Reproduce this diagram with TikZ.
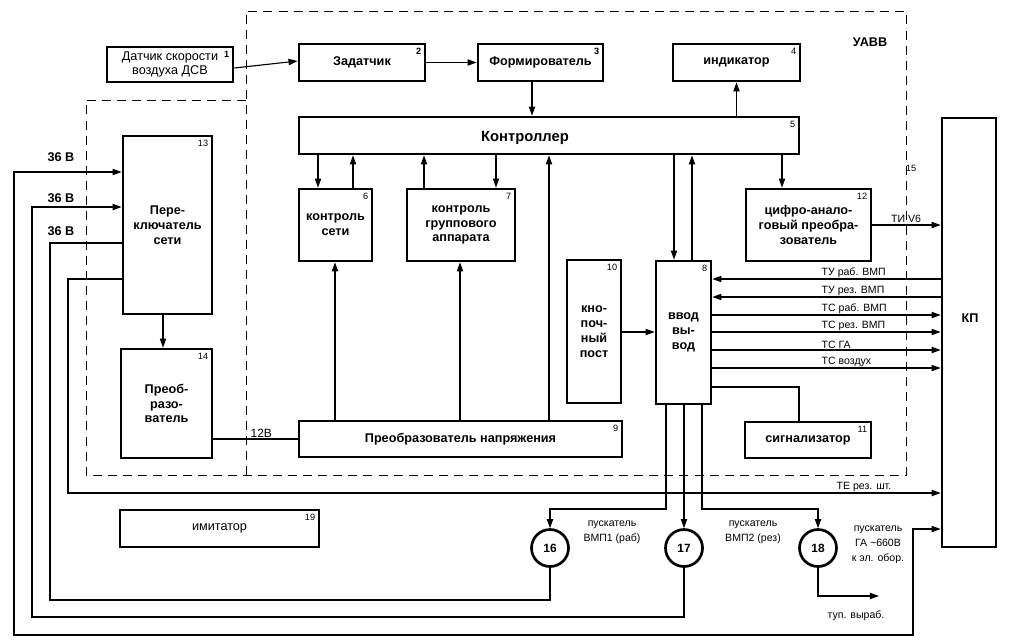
\documentclass[tikz,border=0pt]{standalone}
\usepackage{fontspec}
\setmainfont{Liberation Sans}
\usetikzlibrary{arrows.meta, positioning, calc}
\tikzset{
    % Block styles
    blockbox/.style={
        rectangle,
        draw,
        line width=1.9pt,
        align=center,
        inner sep=1pt,
        font=\bfseries\fontsize{9}{10.5}\selectfont
    },
    plainbox/.style={
        blockbox,
        font=\fontsize{9}{10.5}\selectfont
    },
    numlbl/.style={
        anchor=north east,
        inner sep=3.5pt,
        font=\fontsize{6.5}{7}\selectfont
    },
    circnode/.style={
        circle,
        draw,
        line width=1.9pt,
        minimum size=0.925cm,
        inner sep=0pt,
        font=\bfseries\fontsize{8.5}{10}\selectfont
    },
    % Text styles
    sigtxt/.style={
        inner sep=1pt,
        font=\fontsize{7.5}{9}\selectfont
    },
    smalltxt/.style={
        align=center,
        inner sep=1pt,
        font=\fontsize{7.5}{10.5}\selectfont
    },
    volttxt/.style={
        anchor=east,
        inner sep=1pt,
        font=\bfseries\fontsize{9}{10}\selectfont
    },
    % Line styles
    myarrow/.style={
        -{Triangle[length=6.5pt,width=4.5pt]},
        line width=0.8pt
    },
    plainline/.style={
        line width=0.8pt
    },
    boundary/.style={
        line width=0.6pt,
        dash pattern=on 6.4pt off 4.3pt
    }
}
\begin{document}
\begin{tikzpicture}[x=0.025cm, y=-0.025cm]
    \useasboundingbox (0,0) rectangle (1016,641);

    % UAVV boundary
    \draw[boundary] (246,475) -- (246,11) -- (906,11) -- (906,475) -- (86,475) -- (86,100) -- (246,100);
    \node[font=\bfseries\fontsize{9}{10}\selectfont] (uavv) at (870,42) {УАВВ};
    \node[font=\fontsize{6.5}{7}\selectfont] (n15) at (911,168) {15};

    % Upper row
    \node[plainbox, minimum width=3.15cm, minimum height=0.875cm] (dsv) at (170,64.5) {Датчик скорости\\воздуха ДСВ};
    \node[blockbox, minimum width=3.15cm, minimum height=0.925cm] (zad) at (362,62.5) {Задатчик};
    \node[blockbox, minimum width=3.125cm, minimum height=0.925cm] (form) at (540.5,62.5) {Формирователь};
    \node[blockbox, minimum width=3.175cm, minimum height=0.925cm] (ind) at (736.5,62.5) {индикатор};

    % Controller
    \node[blockbox, minimum width=12.5cm, minimum height=0.925cm] (ctrl) at (549,135.5) {};
    \node[font=\bfseries\fontsize{10.5}{12}\selectfont] (ctrltxt) at (525,138) {Контроллер};

    % Middle row
    \node[blockbox, minimum width=1.825cm, minimum height=1.8cm] (ks) at (335.5,225) {контроль\\сети};
    \node[blockbox, minimum width=2.7cm, minimum height=1.8cm] (kga) at (461,225) {контроль\\группового\\аппарата};
    \node[blockbox, minimum width=3.125cm, minimum height=1.8cm] (cap) at (808.5,225) {цифро-анало-\\говый преобра-\\зователь};
    \node[blockbox, minimum width=1.35cm, minimum height=3.575cm] (kpost) at (594,331.5) {кно-\\поч-\\ный\\пост};
    \node[blockbox, minimum width=1.375cm, minimum height=3.575cm] (io) at (683.5,332.5) {ввод\\вы-\\вод};

    % Lower row
    \node[blockbox, minimum width=8.075cm, minimum height=0.9cm] (pn) at (460.5,439) {Преобразователь напряжения};
    \node[blockbox, minimum width=3.15cm, minimum height=0.9cm] (sig) at (808,440) {сигнализатор};

    % Left column
    \node[blockbox, minimum width=2.225cm, minimum height=4.45cm] (ps) at (167.5,225) {Пере-\\ключатель\\сети};
    \node[blockbox, minimum width=2.275cm, minimum height=2.725cm] (pr) at (166.5,403.5) {Преоб-\\разо-\\ватель};
    \node[plainbox, minimum width=4.975cm, minimum height=0.925cm] (imit) at (219.5,528.5) {имитатор};

    % KP
    \node[blockbox, minimum width=1.35cm, minimum height=10.725cm] (kp) at (969,332.5) {};
    \node[font=\bfseries\fontsize{9}{10}\selectfont] (kptxt) at (970,318) {КП};

    % Starters
    \node[circnode] (c16) at (550,548) {16};
    \node[circnode] (c17) at (684,548) {17};
    \node[circnode] (c18) at (818,548) {18};
    \node[smalltxt] (l16) at (612,532) {пускатель\\ВМП1 (раб)};
    \node[smalltxt] (l17) at (753,532) {пускатель\\ВМП2 (рез)};
    \node[smalltxt] (l18) at (878,545) {пускатель\\ГА \textasciitilde660В\\к эл. обор.};

    % Block numbers
    \node[numlbl, font=\bfseries\fontsize{6.5}{7}\selectfont] (n1) at (dsv.north east) {1};
    \node[numlbl, font=\bfseries\fontsize{6.5}{7}\selectfont] (n2) at (zad.north east) {2};
    \node[numlbl, font=\bfseries\fontsize{6.5}{7}\selectfont] (n3) at (form.north east) {3};
    \foreach \b/\n in {ind/4, ctrl/5, ks/6, kga/7, io/8, pn/9, kpost/10, sig/11, cap/12, ps/13, pr/14, imit/19}
        \node[numlbl] (n\n) at (\b.north east) {\n};

    % Upper connections
    \draw[myarrow] (dsv.east |- 0,68) -- (zad.west |- 0,61);
    \draw[myarrow] (zad.east) -- (form.west);
    \draw[myarrow] (form.south -| 532,0) -- (ctrl.north -| 532,0);
    \draw[myarrow] (ctrl.north -| ind.south) -- (ind.south);

    % Controller to middle row
    \draw[myarrow] (ctrl.south -| 318,0) -- (ks.north -| 318,0);
    \draw[myarrow] (ks.north -| 353,0) -- (ctrl.south -| 353,0);
    \draw[myarrow] (kga.north -| 424,0) -- (ctrl.south -| 424,0);
    \draw[myarrow] (ctrl.south -| 496,0) -- (kga.north -| 496,0);
    \draw[myarrow] (ctrl.south -| 674,0) -- (io.north -| 674,0);
    \draw[myarrow] (io.north -| 692,0) -- (ctrl.south -| 692,0);
    \draw[myarrow] (ctrl.south -| 782,0) -- (cap.north -| 782,0);
    \draw[myarrow] (cap.east) -- (kp.west |- cap.east);
    \node[sigtxt, anchor=south] (lti) at (906,224) {ТИ V6};

    % Voltage converter
    \draw[myarrow] (pn.north -| 335,0) -- (ks.south -| 335,0);
    \draw[myarrow] (pn.north -| 460,0) -- (kga.south -| 460,0);
    \draw[myarrow] (pn.north -| 549,0) -- (ctrl.south -| 549,0);
    \draw[plainline] (pr.east |- 0,439) -- (pn.west |- 0,439);
    \node[sigtxt, anchor=south west, font=\fontsize{8.5}{10}\selectfont] (l12) at (249,439) {12В};
    \draw[myarrow] (ps.south -| 163,0) -- (pr.north -| 163,0);

    % Input/output
    \draw[myarrow] (kpost.east |- 0,332) -- (io.west |- 0,332);
    \foreach \yy/\txt in {279/ТУ раб. ВМП, 297/ТУ рез. ВМП} {
        \draw[myarrow] (kp.west |- 0,\yy) -- (io.east |- 0,\yy);
        \node[sigtxt, anchor=south west] (l\yy) at (820,\yy) {\txt};
    }
    \foreach \yy/\txt in {315/ТС раб. ВМП, 332/ТС рез. ВМП, 350/ТС ГА, 368/ТС воздух} {
        \draw[myarrow] (io.east |- 0,\yy) -- (kp.west |- 0,\yy);
        \node[sigtxt, anchor=south west] (l\yy) at (820,\yy) {\txt};
    }
    \draw[plainline] (io.east |- 0,387) -| (sig.north -| 799,0);

    % Starters
    \draw[myarrow] (io.south -| 666,0) -- (666,509) -| (c16.north);
    \draw[myarrow] (io.south -| c17.north) -- (c17.north);
    \draw[myarrow] (io.south -| 702,0) -- (702,509) -| (c18.north);
    \coordinate (tup) at (879,596);
    \draw[myarrow] (c18.south) |- (tup);
    \node[smalltxt] (ltup) at (856,616) {туп. выраб.};

    % Supply lines
    \node[volttxt] (v1) at (76,157) {36 В};
    \node[volttxt] (v2) at (76,198) {36 В};
    \node[volttxt] (v3) at (76,231) {36 В};
    \draw[{Triangle[length=6.5pt,width=4.5pt]}-{Triangle[length=6.5pt,width=4.5pt]}, line width=0.8pt]
        (ps.west |- 0,172) -| (14,635) -| (913,529) -- (kp.west |- 0,529);
    \draw[myarrow] (c17.south) |- (32,617) |- (ps.west |- 0,207);
    \draw[plainline] (c16.south) |- (50,600) |- (ps.west |- 0,243);
    \draw[myarrow] (ps.west |- 0,279) -| (68,493) -- (kp.west |- 0,493);
    \node[sigtxt, anchor=south east] (lte) at (893,493) {ТЕ рез. шт.};
\end{tikzpicture}
\end{document}
